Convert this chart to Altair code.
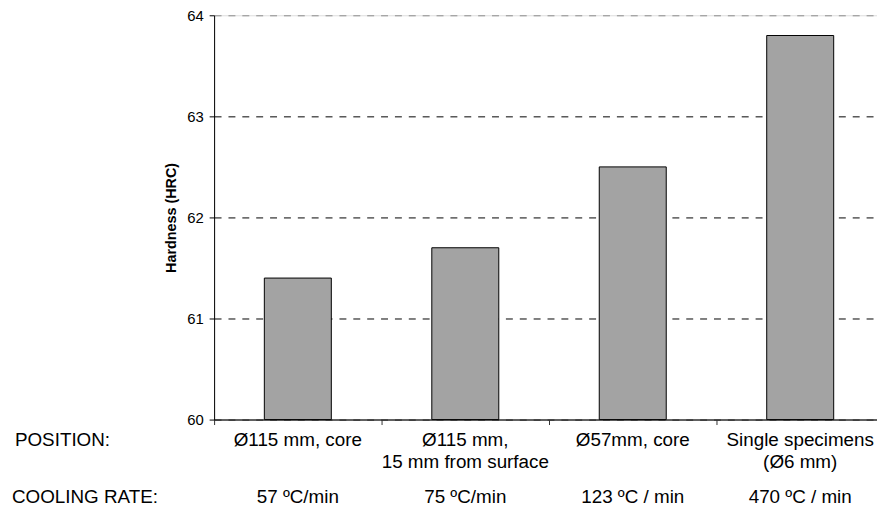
import altair as alt
import pandas as pd

positions = ["Ø115 mm, core", "Ø115 mm,\n15 mm from surface", "Ø57mm, core", "Single specimens\n(Ø6 mm)"]
cooling_rates = ["57 ºC/min", "75 ºC/min", "123 ºC / min", "470 ºC / min"]
hardness = [61.4, 61.7, 62.5, 63.8]
y_ticks = [60, 61, 62, 63, 64]
row_headers = ["POSITION:", "COOLING RATE:"]

FONT = "Liberation Sans"
LABEL_SIZE = 19

df = pd.DataFrame({"position": positions, "cooling": cooling_rates, "hardness": hardness})

x_enc = alt.X(
    "position:N",
    sort=positions,
    scale=alt.Scale(paddingInner=0, paddingOuter=0, range=[0, 676]),
    axis=alt.Axis(
        title=None, labels=False, bandPosition=0, ticks=True, tickSize=5,
        tickColor="#333333", domainColor="#333333", domainWidth=1.5, grid=False,
    ),
)

bars = alt.Chart(df).mark_bar(
    width=alt.RelativeBandSize(0.4), color="#A3A3A3", stroke="black", strokeWidth=1
).encode(
    x=x_enc,
    y=alt.Y(
        "hardness:Q",
        scale=alt.Scale(domain=[60, 64], nice=False, zero=False),
        axis=alt.Axis(
            values=y_ticks, format="d", title="Hardness (HRC)",
            titleFont=FONT, titleFontSize=14.5, titleFontWeight="bold", titleColor="black",
            titleAngle=270, titleX=-43, titleY=204, titleBaseline="middle", titleAlign="center",
            labelFont=FONT, labelFontSize=15, labelColor="black", labelPadding=6,
            tickSize=5, tickColor="black", domainColor="black",
            gridDash=[7, 7],
            gridColor={"condition": {"test": "datum.value === 64", "value": "#8c8c8c"}, "value": "black"},
        ),
    ),
    y2=alt.datum(60),
)

pos_labels = alt.Chart(df).mark_text(
    lineBreak="\n", baseline="alphabetic", align="center", font=FONT, fontSize=LABEL_SIZE,
    lineHeight=22, color="black",
).encode(x=alt.X("position:N", sort=positions), y=alt.value(435), text="position:N")

cool_labels = alt.Chart(df).mark_text(
    baseline="alphabetic", align="center", font=FONT, fontSize=LABEL_SIZE, color="black",
).encode(x=alt.X("position:N", sort=positions), y=alt.value(492), text="cooling:N")

hdr_df = pd.DataFrame({"label": row_headers})
hdr1 = alt.Chart(hdr_df).transform_filter(alt.datum.label == row_headers[0]).mark_text(
    baseline="alphabetic", align="left", font=FONT, fontSize=LABEL_SIZE, color="black",
).encode(x=alt.value(-201), y=alt.value(435), text="label:N")
hdr2 = alt.Chart(hdr_df).transform_filter(alt.datum.label == row_headers[1]).mark_text(
    baseline="alphabetic", align="left", font=FONT, fontSize=LABEL_SIZE, color="black",
).encode(x=alt.value(-204), y=alt.value(492), text="label:N")

chart = alt.layer(bars, pos_labels, cool_labels, hdr1, hdr2).properties(
    width=669, height=408,
    autosize=alt.AutoSizeParams(type="none"),
    padding={"left": 208, "top": 5, "right": 0, "bottom": 100},
).configure_view(stroke=None).configure(font=FONT)

chart.save("out.html", embed_options={"renderer": "svg", "actions": False})
